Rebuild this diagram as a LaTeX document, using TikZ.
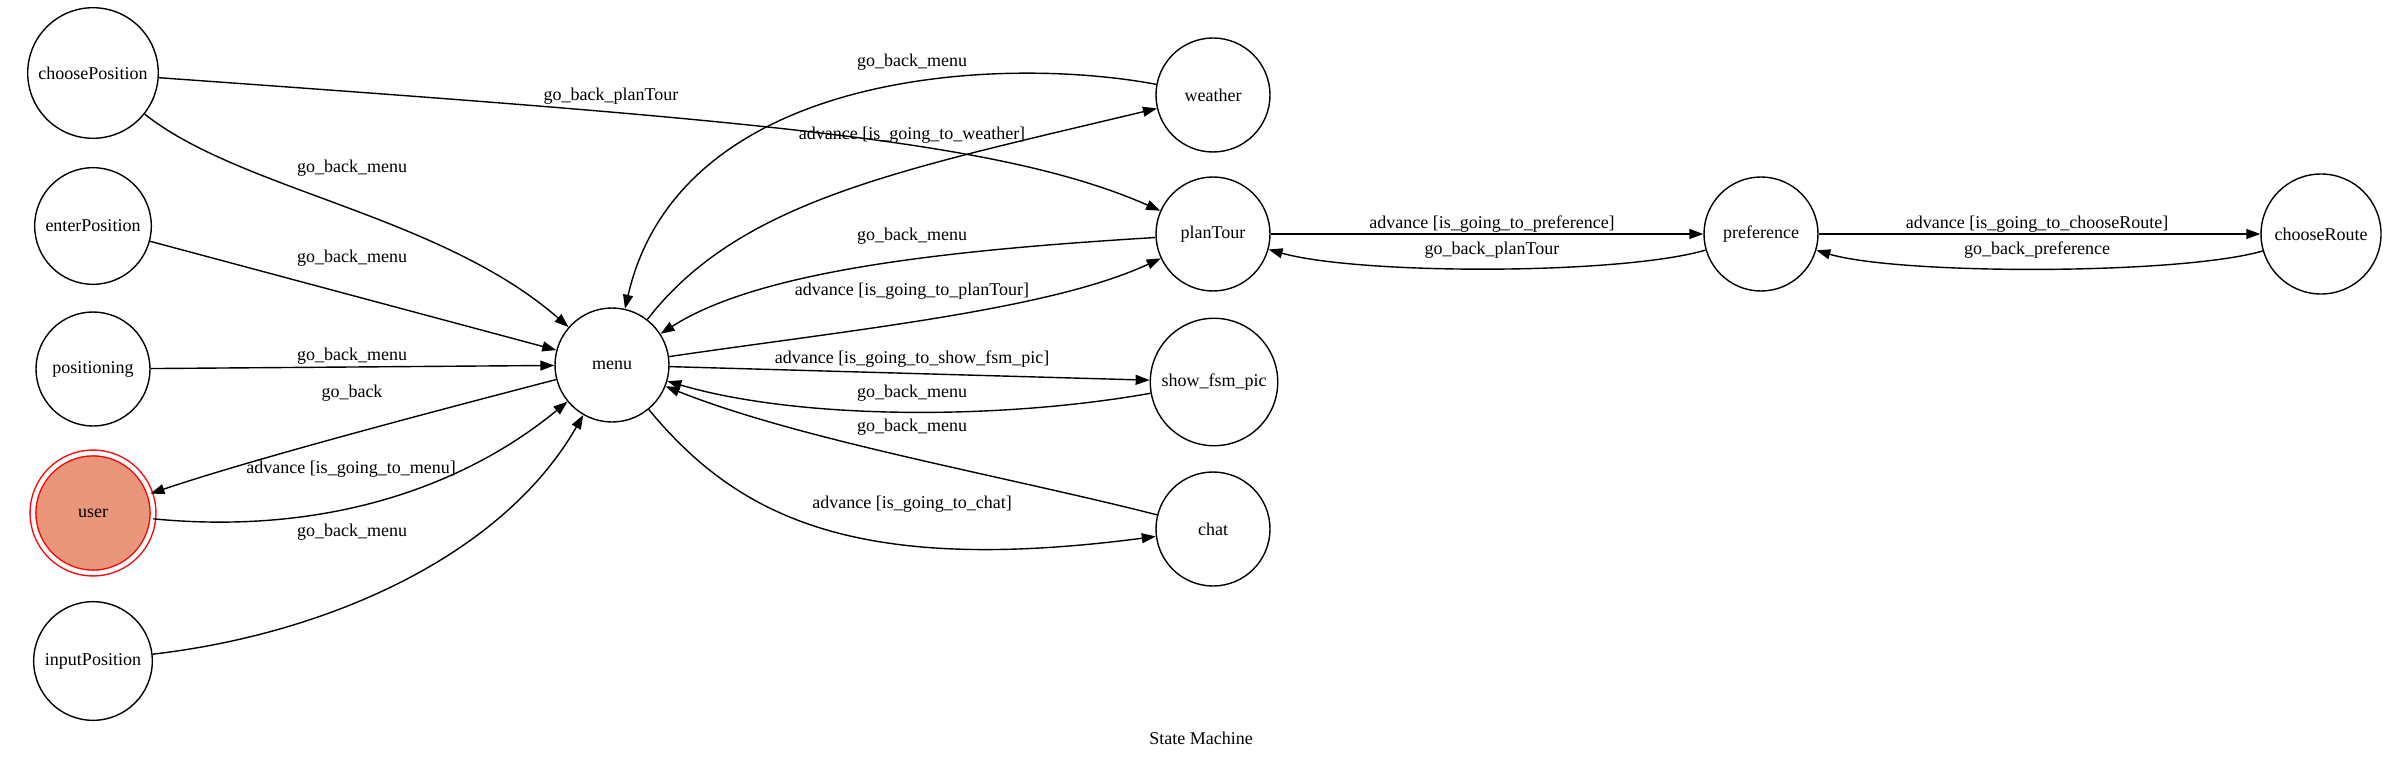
\documentclass[tikz,border=0pt]{standalone}
\usepackage{fontspec}
\setmainfont{Liberation Serif}
\usetikzlibrary{arrows.meta}
\definecolor{usersalmon}{RGB}{233,150,122}

\begin{document}
\begin{tikzpicture}[x=0.5pt, y=-0.5pt,
  every node/.style={font=\fontsize{9}{11}\selectfont},
  state/.style={circle, draw, line width=0.7pt, inner sep=4.5pt, minimum size=57pt},
  lbl/.style={inner sep=0pt},
  edge/.style={line width=0.7pt, -{Triangle[length=7pt, width=5pt]}}]
\useasboundingbox (0,0) rectangle (2403,759);

% states
\node[state] (choosePosition) at (93,73) {choosePosition};
\node[state] (enterPosition) at (93,226) {enterPosition};
\node[state] (positioning) at (93,369) {positioning};
\node[state, draw=red, fill=usersalmon, double=white, double distance=2.2pt, minimum size=60pt] (user) at (93,513) {user};
\node[state] (inputPosition) at (93,661) {inputPosition};
\node[state] (menu) at (612,365) {menu};
\node[state] (weather) at (1213,95) {weather};
\node[state] (planTour) at (1213,234) {planTour};
\node[state] (showfsm) at (1214,382) {show\_fsm\_pic};
\node[state] (chat) at (1213,529) {chat};
\node[state] (preference) at (1761,234) {preference};
\node[state, minimum size=60pt] (chooseRoute) at (2321,234) {chooseRoute};

% left side into menu
\draw[edge] (choosePosition) .. controls (750,120) and (1000,140) .. (planTour);
\node[lbl] (lblChoosePlan) at (611,96) {go\_back\_planTour};

\draw[edge] (choosePosition) .. controls (240,190) and (440,215) .. (menu);
\node[lbl] (lblChooseMenu) at (352,168) {go\_back\_menu};

\draw[edge] (enterPosition) -- (menu);
\node[lbl] (lblEnterMenu) at (352,258) {go\_back\_menu};

\draw[edge] (positioning) -- (menu);
\node[lbl] (lblPosMenu) at (352,356) {go\_back\_menu};

\draw[edge] (menu) .. controls (420,415) and (250,460) .. (user);
\node[lbl] (lblMenuUser) at (352,393) {go\_back};

\draw[edge] (user) .. controls (320,535) and (460,490) .. (menu);
\node[lbl] (lblUserMenu) at (351,469) {advance [is\_going\_to\_menu]};

\draw[edge] (inputPosition) .. controls (320,635) and (500,560) .. (menu);
\node[lbl] (lblInputMenu) at (352,532) {go\_back\_menu};

% right side of menu
\draw[edge] (weather) .. controls (1000,55) and (680,70) .. (menu);
\node[lbl] (lblWeatherMenu) at (912,62) {go\_back\_menu};

\draw[edge] (menu) .. controls (740,200) and (900,170) .. (weather);
\node[lbl] (lblMenuWeather) at (912,135) {advance [is\_going\_to\_weather]};

\draw[edge] (planTour) .. controls (950,250) and (760,270) .. (menu);
\node[lbl] (lblPlanMenu) at (912,236) {go\_back\_menu};

\draw[edge] (menu) .. controls (850,330) and (1050,310) .. (planTour);
\node[lbl] (lblMenuPlan) at (912,291) {advance [is\_going\_to\_planTour]};

\draw[edge] (menu) -- (showfsm);
\node[lbl] (lblMenuShow) at (912,359) {advance [is\_going\_to\_show\_fsm\_pic]};

\draw[edge] (showfsm) .. controls (1000,420) and (800,420) .. (menu);
\node[lbl] (lblShowMenu) at (912,393) {go\_back\_menu};

\draw[edge] (chat) .. controls (1000,475) and (800,440) .. (menu);
\node[lbl] (lblChatMenu) at (912,427) {go\_back\_menu};

\draw[edge] (menu) .. controls (740,520) and (860,575) .. (chat);
\node[lbl] (lblMenuChat) at (912,504) {advance [is\_going\_to\_chat]};

% planTour chain
\draw[edge] (planTour) -- (preference);
\node[lbl] (lblPlanPref) at (1492,224) {advance [is\_going\_to\_preference]};

\draw[edge] (preference) .. controls (1620,275) and (1360,275) .. (planTour);
\node[lbl] (lblPrefPlan) at (1492,250) {go\_back\_planTour};

\draw[edge] (preference) -- (chooseRoute);
\node[lbl] (lblPrefRoute) at (2037,224) {advance [is\_going\_to\_chooseRoute]};

\draw[edge] (chooseRoute) .. controls (2180,275) and (1900,275) .. (preference);
\node[lbl] (lblRoutePref) at (2037,250) {go\_back\_preference};

\node (caption) at (1201,738) {State Machine};
\end{tikzpicture}
\end{document}
